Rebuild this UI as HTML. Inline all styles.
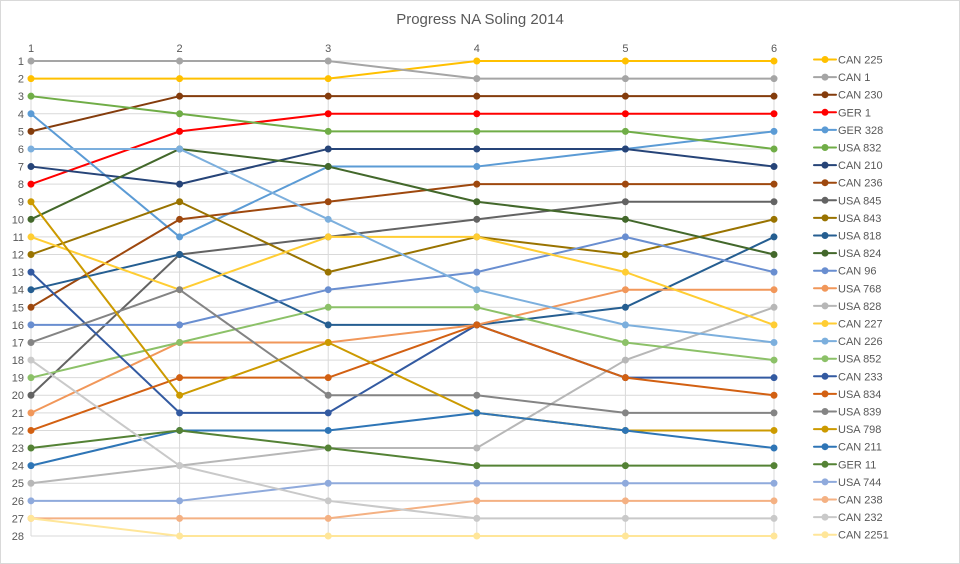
<!DOCTYPE html>
<html><head><meta charset="utf-8"><style>
html,body{margin:0;padding:0;background:#fff}
svg{display:block;font-family:"Liberation Sans",sans-serif}
</style></head><body>
<svg width="960" height="564" viewBox="0 0 960 564" xmlns="http://www.w3.org/2000/svg">
<rect x="0.5" y="0.5" width="959" height="563" fill="#fff" stroke="#d9d9d9"/>
<text x="480" y="24" text-anchor="middle" font-size="15" fill="#595959">Progress NA Soling 2014</text>
<g fill="#595959" font-size="11" text-anchor="middle">
<text x="31" y="52">1</text><text x="179.6" y="52">2</text><text x="328.2" y="52">3</text><text x="476.8" y="52">4</text><text x="625.4" y="52">5</text><text x="774" y="52">6</text>
</g>
<g transform="translate(31,61) scale(148.6,17.5926)" fill="none">
<g stroke="#d9d9d9" stroke-width="1">
<path vector-effect="non-scaling-stroke" d="M0 0H5M0 1H5M0 2H5M0 3H5M0 4H5M0 5H5M0 6H5M0 7H5M0 8H5M0 9H5M0 10H5M0 11H5M0 12H5M0 13H5M0 14H5M0 15H5M0 16H5M0 17H5M0 18H5M0 19H5M0 20H5M0 21H5M0 22H5M0 23H5M0 24H5M0 25H5M0 26H5M0 27H5"/>
<path vector-effect="non-scaling-stroke" d="M0 0V27M1 0V27M2 0V27M3 0V27M4 0V27M5 0V27"/>
</g>
</g>
<g transform="translate(31,61) scale(148.6,17.5926)" fill="none" stroke-linecap="round" stroke-linejoin="round">
<path vector-effect="non-scaling-stroke" stroke-width="2" stroke="#ffc000" d="M0 1L1 1L2 1L3 0L4 0L5 0"/>
<path vector-effect="non-scaling-stroke" stroke-width="7" stroke="#ffc000" d="M0 1h0M1 1h0M2 1h0M3 0h0M4 0h0M5 0h0"/>
<path vector-effect="non-scaling-stroke" stroke-width="2" stroke="#a5a5a5" d="M0 0L1 0L2 0L3 1L4 1L5 1"/>
<path vector-effect="non-scaling-stroke" stroke-width="7" stroke="#a5a5a5" d="M0 0h0M1 0h0M2 0h0M3 1h0M4 1h0M5 1h0"/>
<path vector-effect="non-scaling-stroke" stroke-width="2" stroke="#843c0c" d="M0 4L1 2L2 2L3 2L4 2L5 2"/>
<path vector-effect="non-scaling-stroke" stroke-width="7" stroke="#843c0c" d="M0 4h0M1 2h0M2 2h0M3 2h0M4 2h0M5 2h0"/>
<path vector-effect="non-scaling-stroke" stroke-width="2" stroke="#ff0000" d="M0 7L1 4L2 3L3 3L4 3L5 3"/>
<path vector-effect="non-scaling-stroke" stroke-width="7" stroke="#ff0000" d="M0 7h0M1 4h0M2 3h0M3 3h0M4 3h0M5 3h0"/>
<path vector-effect="non-scaling-stroke" stroke-width="2" stroke="#5b9bd5" d="M0 3L1 10L2 6L3 6L4 5L5 4"/>
<path vector-effect="non-scaling-stroke" stroke-width="7" stroke="#5b9bd5" d="M0 3h0M1 10h0M2 6h0M3 6h0M4 5h0M5 4h0"/>
<path vector-effect="non-scaling-stroke" stroke-width="2" stroke="#70ad47" d="M0 2L1 3L2 4L3 4L4 4L5 5"/>
<path vector-effect="non-scaling-stroke" stroke-width="7" stroke="#70ad47" d="M0 2h0M1 3h0M2 4h0M3 4h0M4 4h0M5 5h0"/>
<path vector-effect="non-scaling-stroke" stroke-width="2" stroke="#264478" d="M0 6L1 7L2 5L3 5L4 5L5 6"/>
<path vector-effect="non-scaling-stroke" stroke-width="7" stroke="#264478" d="M0 6h0M1 7h0M2 5h0M3 5h0M4 5h0M5 6h0"/>
<path vector-effect="non-scaling-stroke" stroke-width="2" stroke="#9e480e" d="M0 14L1 9L2 8L3 7L4 7L5 7"/>
<path vector-effect="non-scaling-stroke" stroke-width="7" stroke="#9e480e" d="M0 14h0M1 9h0M2 8h0M3 7h0M4 7h0M5 7h0"/>
<path vector-effect="non-scaling-stroke" stroke-width="2" stroke="#636363" d="M0 19L1 11L2 10L3 9L4 8L5 8"/>
<path vector-effect="non-scaling-stroke" stroke-width="7" stroke="#636363" d="M0 19h0M1 11h0M2 10h0M3 9h0M4 8h0M5 8h0"/>
<path vector-effect="non-scaling-stroke" stroke-width="2" stroke="#997300" d="M0 11L1 8L2 12L3 10L4 11L5 9"/>
<path vector-effect="non-scaling-stroke" stroke-width="7" stroke="#997300" d="M0 11h0M1 8h0M2 12h0M3 10h0M4 11h0M5 9h0"/>
<path vector-effect="non-scaling-stroke" stroke-width="2" stroke="#255e91" d="M0 13L1 11L2 15L3 15L4 14L5 10"/>
<path vector-effect="non-scaling-stroke" stroke-width="7" stroke="#255e91" d="M0 13h0M1 11h0M2 15h0M3 15h0M4 14h0M5 10h0"/>
<path vector-effect="non-scaling-stroke" stroke-width="2" stroke="#43682b" d="M0 9L1 5L2 6L3 8L4 9L5 11"/>
<path vector-effect="non-scaling-stroke" stroke-width="7" stroke="#43682b" d="M0 9h0M1 5h0M2 6h0M3 8h0M4 9h0M5 11h0"/>
<path vector-effect="non-scaling-stroke" stroke-width="2" stroke="#698ed0" d="M0 15L1 15L2 13L3 12L4 10L5 12"/>
<path vector-effect="non-scaling-stroke" stroke-width="7" stroke="#698ed0" d="M0 15h0M1 15h0M2 13h0M3 12h0M4 10h0M5 12h0"/>
<path vector-effect="non-scaling-stroke" stroke-width="2" stroke="#f1975a" d="M0 20L1 16L2 16L3 15L4 13L5 13"/>
<path vector-effect="non-scaling-stroke" stroke-width="7" stroke="#f1975a" d="M0 20h0M1 16h0M2 16h0M3 15h0M4 13h0M5 13h0"/>
<path vector-effect="non-scaling-stroke" stroke-width="2" stroke="#b7b7b7" d="M0 24L1 23L2 22L3 22L4 17L5 14"/>
<path vector-effect="non-scaling-stroke" stroke-width="7" stroke="#b7b7b7" d="M0 24h0M1 23h0M2 22h0M3 22h0M4 17h0M5 14h0"/>
<path vector-effect="non-scaling-stroke" stroke-width="2" stroke="#ffcd33" d="M0 10L1 13L2 10L3 10L4 12L5 15"/>
<path vector-effect="non-scaling-stroke" stroke-width="7" stroke="#ffcd33" d="M0 10h0M1 13h0M2 10h0M3 10h0M4 12h0M5 15h0"/>
<path vector-effect="non-scaling-stroke" stroke-width="2" stroke="#7cafdd" d="M0 5L1 5L2 9L3 13L4 15L5 16"/>
<path vector-effect="non-scaling-stroke" stroke-width="7" stroke="#7cafdd" d="M0 5h0M1 5h0M2 9h0M3 13h0M4 15h0M5 16h0"/>
<path vector-effect="non-scaling-stroke" stroke-width="2" stroke="#8cc168" d="M0 18L1 16L2 14L3 14L4 16L5 17"/>
<path vector-effect="non-scaling-stroke" stroke-width="7" stroke="#8cc168" d="M0 18h0M1 16h0M2 14h0M3 14h0M4 16h0M5 17h0"/>
<path vector-effect="non-scaling-stroke" stroke-width="2" stroke="#335aa1" d="M0 12L1 20L2 20L3 15L4 18L5 18"/>
<path vector-effect="non-scaling-stroke" stroke-width="7" stroke="#335aa1" d="M0 12h0M1 20h0M2 20h0M3 15h0M4 18h0M5 18h0"/>
<path vector-effect="non-scaling-stroke" stroke-width="2" stroke="#d26012" d="M0 21L1 18L2 18L3 15L4 18L5 19"/>
<path vector-effect="non-scaling-stroke" stroke-width="7" stroke="#d26012" d="M0 21h0M1 18h0M2 18h0M3 15h0M4 18h0M5 19h0"/>
<path vector-effect="non-scaling-stroke" stroke-width="2" stroke="#848484" d="M0 16L1 13L2 19L3 19L4 20L5 20"/>
<path vector-effect="non-scaling-stroke" stroke-width="7" stroke="#848484" d="M0 16h0M1 13h0M2 19h0M3 19h0M4 20h0M5 20h0"/>
<path vector-effect="non-scaling-stroke" stroke-width="2" stroke="#cc9a00" d="M0 8L1 19L2 16L3 20L4 21L5 21"/>
<path vector-effect="non-scaling-stroke" stroke-width="7" stroke="#cc9a00" d="M0 8h0M1 19h0M2 16h0M3 20h0M4 21h0M5 21h0"/>
<path vector-effect="non-scaling-stroke" stroke-width="2" stroke="#2e75b6" d="M0 23L1 21L2 21L3 20L4 21L5 22"/>
<path vector-effect="non-scaling-stroke" stroke-width="7" stroke="#2e75b6" d="M0 23h0M1 21h0M2 21h0M3 20h0M4 21h0M5 22h0"/>
<path vector-effect="non-scaling-stroke" stroke-width="2" stroke="#548235" d="M0 22L1 21L2 22L3 23L4 23L5 23"/>
<path vector-effect="non-scaling-stroke" stroke-width="7" stroke="#548235" d="M0 22h0M1 21h0M2 22h0M3 23h0M4 23h0M5 23h0"/>
<path vector-effect="non-scaling-stroke" stroke-width="2" stroke="#8faadc" d="M0 25L1 25L2 24L3 24L4 24L5 24"/>
<path vector-effect="non-scaling-stroke" stroke-width="7" stroke="#8faadc" d="M0 25h0M1 25h0M2 24h0M3 24h0M4 24h0M5 24h0"/>
<path vector-effect="non-scaling-stroke" stroke-width="2" stroke="#f4b183" d="M0 26L1 26L2 26L3 25L4 25L5 25"/>
<path vector-effect="non-scaling-stroke" stroke-width="7" stroke="#f4b183" d="M0 26h0M1 26h0M2 26h0M3 25h0M4 25h0M5 25h0"/>
<path vector-effect="non-scaling-stroke" stroke-width="2" stroke="#c9c9c9" d="M0 17L1 23L2 25L3 26L4 26L5 26"/>
<path vector-effect="non-scaling-stroke" stroke-width="7" stroke="#c9c9c9" d="M0 17h0M1 23h0M2 25h0M3 26h0M4 26h0M5 26h0"/>
<path vector-effect="non-scaling-stroke" stroke-width="2" stroke="#ffe699" d="M0 26L1 27L2 27L3 27L4 27L5 27"/>
<path vector-effect="non-scaling-stroke" stroke-width="7" stroke="#ffe699" d="M0 26h0M1 27h0M2 27h0M3 27h0M4 27h0M5 27h0"/>
</g>
<g fill="#595959" font-size="11" text-anchor="end">
<text x="24" y="65">1</text><text x="24" y="82.6">2</text><text x="24" y="100.2">3</text><text x="24" y="117.8">4</text><text x="24" y="135.4">5</text><text x="24" y="153">6</text><text x="24" y="170.5">7</text><text x="24" y="188.1">8</text><text x="24" y="205.7">9</text><text x="24" y="223.3">10</text><text x="24" y="240.9">11</text><text x="24" y="258.5">12</text><text x="24" y="276.1">13</text><text x="24" y="293.7">14</text><text x="24" y="311.3">15</text><text x="24" y="328.9">16</text><text x="24" y="346.4">17</text><text x="24" y="364">18</text><text x="24" y="381.6">19</text><text x="24" y="399.2">20</text><text x="24" y="416.8">21</text><text x="24" y="434.4">22</text><text x="24" y="452">23</text><text x="24" y="469.6">24</text><text x="24" y="487.2">25</text><text x="24" y="504.8">26</text><text x="24" y="522.4">27</text><text x="24" y="540">28</text>
</g>
<g font-size="11" fill="#595959" stroke-linecap="round">
<g stroke-width="2">
<path stroke="#ffc000" d="M814 59.5H836"/><path stroke="#a5a5a5" d="M814 77.1H836"/><path stroke="#843c0c" d="M814 94.7H836"/><path stroke="#ff0000" d="M814 112.3H836"/><path stroke="#5b9bd5" d="M814 129.9H836"/><path stroke="#70ad47" d="M814 147.5H836"/><path stroke="#264478" d="M814 165.1H836"/><path stroke="#9e480e" d="M814 182.7H836"/><path stroke="#636363" d="M814 200.3H836"/><path stroke="#997300" d="M814 217.9H836"/><path stroke="#255e91" d="M814 235.5H836"/><path stroke="#43682b" d="M814 253.1H836"/><path stroke="#698ed0" d="M814 270.7H836"/><path stroke="#f1975a" d="M814 288.3H836"/><path stroke="#b7b7b7" d="M814 305.9H836"/><path stroke="#ffcd33" d="M814 323.5H836"/><path stroke="#7cafdd" d="M814 341.1H836"/><path stroke="#8cc168" d="M814 358.7H836"/><path stroke="#335aa1" d="M814 376.3H836"/><path stroke="#d26012" d="M814 393.9H836"/><path stroke="#848484" d="M814 411.5H836"/><path stroke="#cc9a00" d="M814 429.1H836"/><path stroke="#2e75b6" d="M814 446.7H836"/><path stroke="#548235" d="M814 464.3H836"/><path stroke="#8faadc" d="M814 481.9H836"/><path stroke="#f4b183" d="M814 499.5H836"/><path stroke="#c9c9c9" d="M814 517.1H836"/><path stroke="#ffe699" d="M814 534.7H836"/>
</g>
<g stroke-width="7">
<path stroke="#ffc000" d="M825 59.5h0"/><path stroke="#a5a5a5" d="M825 77.1h0"/><path stroke="#843c0c" d="M825 94.7h0"/><path stroke="#ff0000" d="M825 112.3h0"/><path stroke="#5b9bd5" d="M825 129.9h0"/><path stroke="#70ad47" d="M825 147.5h0"/><path stroke="#264478" d="M825 165.1h0"/><path stroke="#9e480e" d="M825 182.7h0"/><path stroke="#636363" d="M825 200.3h0"/><path stroke="#997300" d="M825 217.9h0"/><path stroke="#255e91" d="M825 235.5h0"/><path stroke="#43682b" d="M825 253.1h0"/><path stroke="#698ed0" d="M825 270.7h0"/><path stroke="#f1975a" d="M825 288.3h0"/><path stroke="#b7b7b7" d="M825 305.9h0"/><path stroke="#ffcd33" d="M825 323.5h0"/><path stroke="#7cafdd" d="M825 341.1h0"/><path stroke="#8cc168" d="M825 358.7h0"/><path stroke="#335aa1" d="M825 376.3h0"/><path stroke="#d26012" d="M825 393.9h0"/><path stroke="#848484" d="M825 411.5h0"/><path stroke="#cc9a00" d="M825 429.1h0"/><path stroke="#2e75b6" d="M825 446.7h0"/><path stroke="#548235" d="M825 464.3h0"/><path stroke="#8faadc" d="M825 481.9h0"/><path stroke="#f4b183" d="M825 499.5h0"/><path stroke="#c9c9c9" d="M825 517.1h0"/><path stroke="#ffe699" d="M825 534.7h0"/>
</g>
<text x="838" y="63.5">CAN 225</text><text x="838" y="81.1">CAN 1</text><text x="838" y="98.7">CAN 230</text><text x="838" y="116.3">GER 1</text><text x="838" y="133.9">GER 328</text><text x="838" y="151.5">USA 832</text><text x="838" y="169.1">CAN 210</text><text x="838" y="186.7">CAN 236</text><text x="838" y="204.3">USA 845</text><text x="838" y="221.9">USA 843</text><text x="838" y="239.5">USA 818</text><text x="838" y="257.1">USA 824</text><text x="838" y="274.7">CAN 96</text><text x="838" y="292.3">USA 768</text><text x="838" y="309.9">USA 828</text><text x="838" y="327.5">CAN 227</text><text x="838" y="345.1">CAN 226</text><text x="838" y="362.7">USA 852</text><text x="838" y="380.3">CAN 233</text><text x="838" y="397.9">USA 834</text><text x="838" y="415.5">USA 839</text><text x="838" y="433.1">USA 798</text><text x="838" y="450.7">CAN 211</text><text x="838" y="468.3">GER 11</text><text x="838" y="485.9">USA 744</text><text x="838" y="503.5">CAN 238</text><text x="838" y="521.1">CAN 232</text><text x="838" y="538.7">CAN 2251</text>
</g>
</svg>
</body></html>
